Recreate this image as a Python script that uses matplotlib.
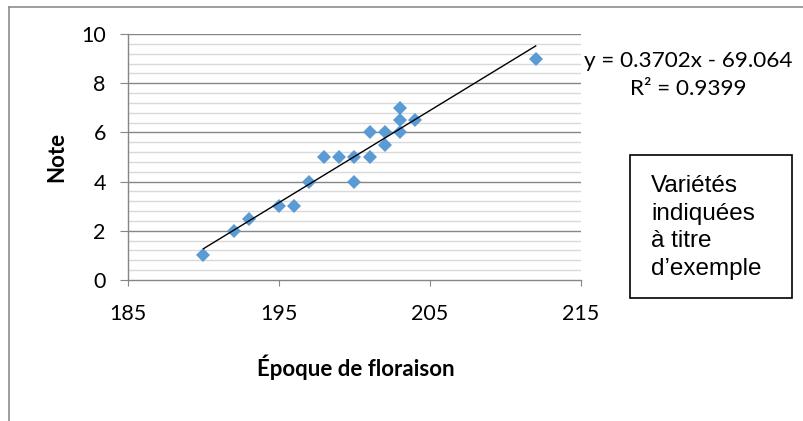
import numpy as np
import matplotlib
matplotlib.use("Agg")
from matplotlib import pyplot as plt
from matplotlib.lines import Line2D
from matplotlib.patches import Rectangle

# données : époque de floraison / note
epoque = [190, 192, 193, 195, 196, 197, 198, 199, 200, 200,
          201, 201, 202, 202, 203, 203, 203, 204, 212]
note = [1, 2, 2.5, 3, 3, 4, 5, 5, 5, 4,
        5, 6, 6, 5.5, 7, 6.5, 6, 6.5, 9]
x_ticks = [185, 195, 205, 215]
y_ticks = [0, 2, 4, 6, 8, 10]
eq_lines = ["y = 0.3702x - 69.064", "R² = 0.9399"]
box_lines = ["Variétés", "indiquées", "à titre", "d\u2019exemple"]

font_main = ["Lato", "DejaVu Sans"]
font_box = ["Liberation Sans", "DejaVu Sans"]
grid_major = "#868686"
grid_minor = "#d9d9d9"
blue = "#5b9bd5"

W, H = 804, 421
fig = plt.figure(figsize=(W / 100, H / 100), dpi=100)

# cadre extérieur (coupé à droite et en bas)
fig.add_artist(Line2D([9 / W, 1], [1 - 7 / H, 1 - 7 / H], color="#8c8c8c", lw=1.2))
fig.add_artist(Line2D([9 / W, 9 / W], [1 - 7 / H, 0], color="#8c8c8c", lw=1.2))

ax = fig.add_axes([128 / W, 1 - 280 / H, (581 - 128) / W, (280 - 34) / H])
ax.set_xlim(185, 215)
ax.set_ylim(0, 10)

# quadrillage
for v in np.arange(0.4, 10, 0.4):
    if abs(v / 2 - round(v / 2)) > 1e-6:
        ax.axhline(v, color=grid_minor, lw=1, zorder=0)
for v in y_ticks[1:]:
    ax.axhline(v, color=grid_major, lw=1, zorder=0.5)

ax.plot(epoque, note, linestyle="none", marker="D", ms=6.8, mew=0,
        color=blue, zorder=3)

# courbe de tendance
a, b = np.polyfit(epoque, note, 1)
xs = np.array([min(epoque), max(epoque)])
ax.plot(xs, a * xs + b, color="black", lw=1, zorder=4)

for s in ["top", "right"]:
    ax.spines[s].set_visible(False)
for s in ["left", "bottom"]:
    ax.spines[s].set_color(grid_major)
    ax.spines[s].set_linewidth(1)

ax.set_xticks(x_ticks)
ax.set_yticks(y_ticks)
ax.tick_params(axis="y", direction="out", length=6, color=grid_major,
               labelsize=15.5, pad=10)
ax.tick_params(axis="x", direction="out", length=4, color=grid_major,
               labelsize=15.5, pad=13)
for lab in ax.get_xticklabels() + ax.get_yticklabels():
    lab.set_family(font_main)

fig.text(57 / W, 1 - 157 / H, "Note", rotation=90, ha="center", va="center",
         fontsize=16, fontweight="bold", family=font_main)
fig.text(356 / W, 1 - 367 / H, "Époque de floraison", ha="center", va="center",
         fontsize=16, fontweight="bold", family=font_main)

# équation de la tendance
for i, line in enumerate(eq_lines):
    fig.text(688 / W, 1 - (67 + 28 * i) / H, line, ha="center", va="baseline",
             fontsize=16.2, family=font_main)

# encadré
fig.add_artist(Rectangle((630 / W, 1 - 298 / H), (792 - 630) / W, (298 - 155) / H,
                         transform=fig.transFigure, fill=False,
                         edgecolor="black", lw=1.2))
for i, line in enumerate(box_lines):
    fig.text(651 / W, 1 - (192 + 27.7 * i) / H, line, ha="left", va="baseline",
             fontsize=17.5, family=font_box)

fig.savefig("out.png", dpi=100)
